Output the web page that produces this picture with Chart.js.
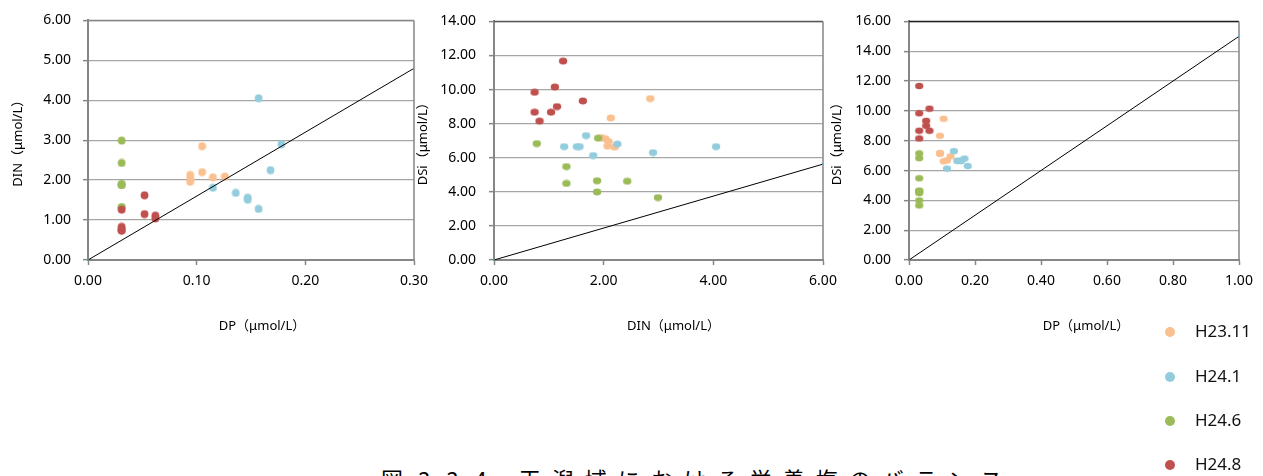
<!DOCTYPE html>
<html lang="ja">
<head>
<meta charset="utf-8">
<title>栄養塩のバランス</title>
<script src="https://cdn.jsdelivr.net/npm/chart.js@4.4.1/dist/chart.umd.min.js"></script>
<style>
  html, body { margin: 0; padding: 0; background: #fff; }
  body { width: 1263px; height: 476px; position: relative; overflow: hidden; font-family: "Noto Sans", sans-serif; }
  canvas.plot { position: absolute; top: 0; }
  .key { position: absolute; left: 1164px; height: 20px; line-height: 20px; font-size: 17px; color: #111; z-index: 2; }
  .key i { position: absolute; left: 1px; top: 5px; width: 10px; height: 10px; border-radius: 50%; }
  .key span { position: absolute; left: 31px; top: -1px; white-space: nowrap; }
  #caption { position: absolute; left: 381px; top: 467px; font-family: "Noto Sans CJK JP", sans-serif; font-size: 22px; line-height: 22px; white-space: nowrap; color: #000; }
</style>
</head>
<body>
<canvas class="plot" id="dpDin"></canvas>
<canvas class="plot" id="dinDsi"></canvas>
<canvas class="plot" id="dpDsi"></canvas>
<div id="legend"></div>
<div id="caption"><span style="letter-spacing:5px">図 3.3.4　</span><span style="letter-spacing:11px">干潟域における栄養塩のバランス</span></div>

<script>
// survey periods
const seriesNames = ["H23.11", "H24.1", "H24.6", "H24.8"];
const seriesColors = ["#FAC090", "#93CDDD", "#9BBB59", "#C0504D"];

// μmol/L at each station
const dpH2311 = [0.094, 0.094, 0.094, 0.105, 0.105, 0.115, 0.126];
const dinH2311 = [2.13, 2.03, 1.96, 2.85, 2.20, 2.07, 2.09];
const dsiH2311 = [8.33, 7.12, 7.18, 9.47, 6.62, 6.68, 6.95];

const dpH2401 = [0.157, 0.178, 0.168, 0.115, 0.136, 0.147, 0.147, 0.157];
const dinH2401 = [4.05, 2.90, 2.25, 1.81, 1.68, 1.56, 1.51, 1.28];
const dsiH2401 = [6.65, 6.30, 6.80, 6.13, 7.30, 6.65, 6.65, 6.65];

const dpH2406 = [0.031, 0.031, 0.031, 0.031, 0.031, 0.031, 0.031, 0.031];
const dinH2406 = [0.78, 1.32, 1.32, 1.88, 1.88, 2.43, 2.99, 1.90];
const dsiH2406 = [6.83, 5.48, 4.49, 4.65, 3.99, 4.62, 3.66, 7.15];

const dpH2408 = [0.031, 0.031, 0.031, 0.031, 0.052, 0.052, 0.062, 0.062];
const dinH2408 = [1.26, 0.74, 0.74, 0.83, 1.62, 1.15, 1.11, 1.04];
const dsiH2408 = [11.67, 9.84, 8.67, 8.15, 9.33, 9.00, 10.15, 8.67];

// Redfield ratio lines (N:P = 16, Si:N = 15:16, Si:P = 15)
const ratioLineDP_A = [0, 0.30];
const ratioLineDIN_A = [0, 4.80];
const ratioLineDIN_B = [0, 6.00];
const ratioLineDSi_B = [0, 5.625];
const ratioLineDP_C = [0, 1.00];
const ratioLineDSi_C = [0, 15.0];

// axis ticks
const dpTicksA = [0, 0.1, 0.2, 0.3];
const dinTicksA = [0, 1, 2, 3, 4, 5, 6];
const dinTicksB = [0, 2, 4, 6];
const dsiTicksB = [0, 2, 4, 6, 8, 10, 12, 14];
const dpTicksC = [0, 0.2, 0.4, 0.6, 0.8, 1.0];
const dsiTicksC = [0, 2, 4, 6, 8, 10, 12, 14, 16];

const dpAll = [dpH2311, dpH2401, dpH2406, dpH2408];
const dinAll = [dinH2311, dinH2401, dinH2406, dinH2408];
const dsiAll = [dsiH2311, dsiH2401, dsiH2406, dsiH2408];

Chart.defaults.font.family = '"Noto Sans", sans-serif';
Chart.defaults.font.size = 14;
Chart.defaults.color = "#000";

const CANVAS_H = 345;
const PLOT_BOTTOM = 260;
const AXIS_GRAY = "#868686";
const TITLE_FAMILY = '"Noto Sans", "Noto Sans CJK JP", sans-serif';
const TITLE_SIZE = 13;

// oval marker, the pasted charts were slightly stretched sideways
function dot(color, w, h) {
  const c = document.createElement("canvas");
  c.width = Math.ceil(w) + 1;
  c.height = Math.ceil(h) + 1;
  const g = c.getContext("2d");
  g.fillStyle = color;
  g.beginPath();
  g.ellipse(c.width / 2, c.height / 2, w / 2, h / 2, 0, 0, Math.PI * 2);
  g.fill();
  return c;
}

function pairs(xs, ys) {
  return xs.map((x, i) => ({ x: x, y: ys[i] }));
}

// right/top edge of the plot area
const frame = {
  id: "frame",
  beforeDatasetsDraw(chart, args, opts) {
    const a = chart.chartArea, ctx = chart.ctx;
    ctx.save();
    ctx.lineWidth = 1.5;
    ctx.strokeStyle = opts.top || AXIS_GRAY;
    ctx.beginPath();
    ctx.moveTo(a.left, a.top);
    ctx.lineTo(a.right, a.top);
    ctx.stroke();
    ctx.strokeStyle = AXIS_GRAY;
    ctx.beginPath();
    ctx.moveTo(a.right, a.top);
    ctx.lineTo(a.right, a.bottom);
    ctx.stroke();
    ctx.restore();
  }
};

// x axis caption, sits a little right of the plot centre
const xCaption = {
  id: "xCaption",
  afterDraw(chart, args, opts) {
    const a = chart.chartArea, ctx = chart.ctx;
    ctx.save();
    ctx.font = TITLE_SIZE + "px " + TITLE_FAMILY;
    ctx.fillStyle = "#000";
    ctx.textAlign = "center";
    ctx.textBaseline = "middle";
    ctx.fillText(opts.text, (a.left + a.right) / 2 + opts.dx, opts.y);
    ctx.restore();
  }
};

function buildChart(id, c) {
  const el = document.getElementById(id);
  el.width = c.width;
  el.height = CANVAS_H;
  el.style.left = c.left + "px";
  el.style.width = c.width + "px";
  el.style.height = CANVAS_H + "px";

  const datasets = seriesNames.map((name, s) => ({
    label: name,
    data: pairs(c.xs[s], c.ys[s]),
    pointStyle: dot(seriesColors[s], c.dotW, c.dotH),
    pointRadius: 4,
    showLine: false,
    order: 4 - s
  }));
  datasets.push({
    label: "ratio",
    data: pairs(c.lineX, c.lineY),
    showLine: true,
    borderColor: "#000",
    borderWidth: 1,
    pointRadius: 1,
    pointBackgroundColor: "#4BACC6",
    pointBorderWidth: 0,
    order: 0
  });

  const plotLeft = c.plotLeft - c.left;
  const plotRight = c.plotRight - c.left;

  return new Chart(el, {
    type: "scatter",
    data: { datasets: datasets },
    plugins: [frame, xCaption],
    options: {
      responsive: false,
      animation: false,
      events: [],
      layout: { padding: { left: 0, top: c.top, right: c.width - plotRight, bottom: 0 } },
      plugins: {
        legend: { display: false },
        tooltip: { enabled: false },
        frame: { top: c.frameTop },
        xCaption: { text: c.xTitle, dx: c.xTitleDx, y: 326 }
      },
      scales: {
        x: {
          type: "linear",
          min: c.xTicks[0],
          max: c.xTicks[c.xTicks.length - 1],
          afterBuildTicks: s => { s.ticks = c.xTicks.map(v => ({ value: v })); },
          afterFit: s => { s.height = CANVAS_H - PLOT_BOTTOM; },
          ticks: { padding: 8, maxRotation: 0, callback: v => v.toFixed(2) },
          grid: { drawOnChartArea: false, tickLength: 5, tickColor: AXIS_GRAY, tickWidth: 1.5 },
          border: { color: AXIS_GRAY, width: 2 }
        },
        y: {
          type: "linear",
          min: c.yTicks[0],
          max: c.yTicks[c.yTicks.length - 1],
          afterBuildTicks: s => { s.ticks = c.yTicks.map(v => ({ value: v })); },
          afterFit: s => { s.width = plotLeft; },
          ticks: { padding: c.yPad, callback: v => v.toFixed(2) },
          grid: { color: "#A6A6A6", lineWidth: 1.3, tickLength: 5, tickColor: AXIS_GRAY, tickWidth: 1.5 },
          border: { color: AXIS_GRAY, width: 2 },
          title: {
            display: true,
            text: c.yTitle,
            font: { family: TITLE_FAMILY, size: TITLE_SIZE },
            padding: { top: c.yTitleX - TITLE_SIZE * 0.6, bottom: 0 }
          }
        }
      }
    }
  });
}

buildChart("dpDin", {
  left: 0, width: 442, plotLeft: 88, plotRight: 414, top: 20,
  xs: dpAll, ys: dinAll, xTicks: dpTicksA, yTicks: dinTicksA,
  lineX: ratioLineDP_A, lineY: ratioLineDIN_A,
  xTitle: "DP（μmol/L）", xTitleDx: 11, yTitle: "DIN（μmol/L）", yTitleX: 18, yPad: 12,
  dotW: 7.8, dotH: 7.8
});

buildChart("dinDsi", {
  left: 408, width: 443, plotLeft: 494, plotRight: 823, top: 20,
  xs: dinAll, ys: dsiAll, xTicks: dinTicksB, yTicks: dsiTicksB,
  lineX: ratioLineDIN_B, lineY: ratioLineDSi_B,
  xTitle: "DIN（μmol/L）", xTitleDx: 15, yTitle: "DSi（μmol/L）", yTitleX: 15, yPad: 13,
  dotW: 8.4, dotH: 6.8, frameTop: "#5a5a5a"
});

buildChart("dpDsi", {
  left: 823, width: 440, plotLeft: 909, plotRight: 1239, top: 19.5,
  xs: dpAll, ys: dsiAll, xTicks: dpTicksC, yTicks: dsiTicksC,
  lineX: ratioLineDP_C, lineY: ratioLineDSi_C,
  xTitle: "DP（μmol/L）", xTitleDx: 12, yTitle: "DSi（μmol/L）", yTitleX: 14, yPad: 13,
  dotW: 8.2, dotH: 6.5, frameTop: "#222"
});

// legend
const legendTops = [322, 367, 411, 455];
const legend = document.getElementById("legend");
seriesNames.forEach((name, i) => {
  const row = document.createElement("div");
  row.className = "key";
  row.style.top = legendTops[i] + "px";
  row.innerHTML = '<i style="background:' + seriesColors[i] + '"></i><span>' + name + "</span>";
  legend.appendChild(row);
});
</script>
</body>
</html>
